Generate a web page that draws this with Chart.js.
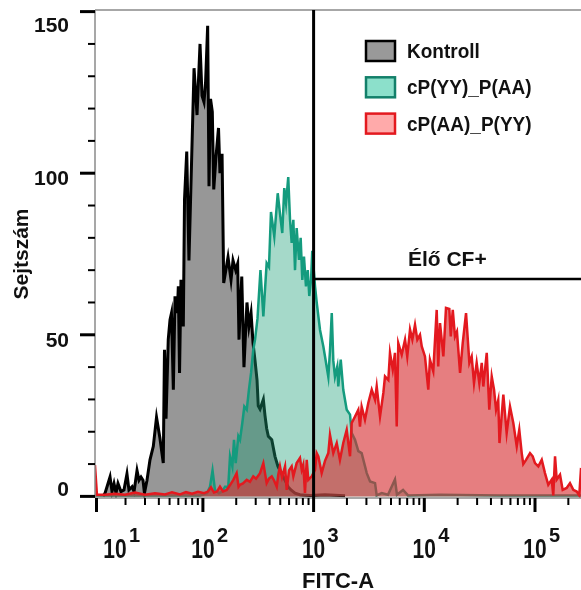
<!DOCTYPE html>
<html><head><meta charset="utf-8">
<script src="https://cdn.jsdelivr.net/npm/chart.js@4.4.0/dist/chart.umd.min.js"></script>
<style>html,body{margin:0;padding:0;background:#fff;}canvas{display:block;}</style>
</head><body>
<canvas id="c" width="581" height="590"></canvas>
<script>
// ---- data (x = log10 FITC-A, y = cell count) ----
const seriesLabels = ['Kontroll', 'cP(YY)_P(AA)', 'cP(AA)_P(YY)'];

const kontrollX = [1.098,1.116,1.143,1.161,1.179,1.197,1.215,1.233,1.260,1.287,1.314,1.332,1.360,1.378,1.405,1.423,1.441,1.459,1.472,1.495,1.522,1.552,1.581,1.612,1.642,1.653,1.667,1.687,1.703,1.716,1.733,1.748,1.769,1.778,1.789,1.802,1.823,1.834,1.854,1.874,1.920,1.947,1.974,1.992,2.010,2.024,2.043,2.055,2.069,2.085,2.098,2.118,2.141,2.154,2.173,2.188,2.227,2.254,2.272,2.296,2.314,2.326,2.351,2.371,2.398,2.416,2.435,2.453,2.471,2.489,2.500,2.516,2.546,2.561,2.576,2.591,2.622,2.651,2.678,2.712,2.742,2.769,2.796,2.832,2.877,2.968,3.103,3.284];
const kontrollY = [0,1,4,6,1.5,4,1,4,1.5,2,7,2,3,1.5,8,5,6,5,1,5,11.3,15.5,24.5,18,10.3,45.4,24,48.5,54.7,56.7,33,61.9,56.7,65,38.2,67,52.6,92,106.7,73,132.5,118,140,124,122,128,145.6,96,123,119,95,105,114,100,106,66,74,67,73,70,72,48.5,68,40,60,52.6,56.7,47.4,42,36,28,27,30,25,21,18.6,17.5,12.4,9.3,7,5,3,2,1,0.5,0.3,0.5,0.2];

const yyaaX = [1.025,1.522,1.974,2.037,2.064,2.087,2.109,2.145,2.173,2.200,2.229,2.245,2.266,2.281,2.296,2.320,2.335,2.356,2.374,2.396,2.416,2.435,2.455,2.471,2.493,2.520,2.546,2.576,2.597,2.615,2.645,2.676,2.696,2.717,2.735,2.751,2.771,2.787,2.802,2.817,2.832,2.847,2.868,2.883,2.898,2.913,2.931,2.947,2.961,2.977,2.988,3.013,3.028,3.058,3.088,3.103,3.133,3.148,3.164,3.178,3.193,3.214,3.223,3.245,3.268,3.299,3.329,3.344,3.374,3.404,3.434,3.480,3.510,3.555,3.570,3.615,3.672,3.735,3.753,3.808,3.853,4.142,4.684,5.416];
const yyaaY = [0.3,0.3,0.3,1,3,8,2,1,1.5,3,3,12.4,9.3,17.5,10.3,18.6,17.5,22.7,27.8,26.8,33,38.2,45.4,48.5,55,70,55.7,72.2,71,88,80.4,93.8,87.6,81.5,95.4,90.7,98.8,85.6,78.4,85.6,70,83,73.2,80,67,74.2,65,70,62,67,76,65,60,51.5,46.4,43.3,37,45,56.7,42,37,40.2,34,42.3,33,26.8,25.3,19.6,17.5,14,13.4,7.2,4.6,4.1,0.3,1,0.5,5.2,0.5,2,0.3,0.5,0.3,0.3];

const aayyX = [1.025,1.043,1.116,1.206,1.296,1.387,1.477,1.567,1.658,1.721,1.793,1.847,1.902,1.956,2.010,2.046,2.073,2.100,2.127,2.154,2.182,2.215,2.245,2.275,2.305,2.322,2.335,2.362,2.396,2.425,2.455,2.480,2.516,2.546,2.576,2.597,2.622,2.642,2.667,2.681,2.696,2.715,2.742,2.757,2.778,2.802,2.817,2.847,2.877,2.893,2.907,2.922,2.938,2.952,2.983,3.013,3.028,3.043,3.073,3.103,3.133,3.148,3.178,3.209,3.238,3.268,3.299,3.329,3.344,3.374,3.404,3.419,3.434,3.464,3.494,3.525,3.555,3.570,3.600,3.630,3.645,3.675,3.690,3.715,3.735,3.751,3.765,3.796,3.826,3.846,3.871,3.892,3.916,3.937,3.961,3.977,4.006,4.036,4.051,4.081,4.112,4.126,4.142,4.172,4.196,4.226,4.239,4.257,4.277,4.295,4.323,4.347,4.377,4.407,4.428,4.449,4.473,4.497,4.519,4.533,4.564,4.587,4.609,4.630,4.648,4.668,4.679,4.714,4.744,4.774,4.804,4.835,4.858,4.880,4.894,4.919,4.955,4.979,5.000,5.030,5.061,5.090,5.120,5.151,5.165,5.181,5.196,5.226,5.250,5.286,5.316,5.346,5.377,5.400,5.416];
const aayyY = [9.7,0.5,0.5,0.8,0.5,1.2,0.5,1.0,0.6,1.3,0.6,1.3,0.8,1.4,1.0,1.5,2.8,1.2,1.5,3,1.5,2,3.5,5.1,7.2,3,3.6,4,5.1,4.5,6.2,5.5,7.2,10.3,4.1,5.5,6.2,5,3,6.7,9.3,6,9.3,2,8,9.3,6.2,10.3,11.9,8.2,9.8,1.1,11.3,5.1,6.2,8.2,13.4,12.4,7.2,11,13.4,19,13.4,16.5,11.3,16.5,20.6,12.4,22.7,24.7,26.8,21.6,27.8,23.7,28.9,33,29.9,34,24.7,32,37.1,36,44.4,39.2,44.4,21.6,47.4,43.8,48.5,43.3,51.6,48.5,53.1,48.5,50,46.4,43.3,33,42.3,38.7,57.7,40.2,53.6,43.3,58.3,58,49.5,57.7,49.5,51,38.2,47.4,56.7,41.3,43.3,35,41.3,35,41.3,34,44.4,26.8,37.1,33,26.8,29.8,16.5,31.5,19.6,27.8,22.7,15.5,20.6,13.4,10,11.3,13.4,12.4,10.3,9.3,11.3,7.2,3.6,5.2,0.3,12.4,5.2,6.7,2,2.6,4.1,2,1.5,0.3,8.8];

const yMajorTicks = [0, 50, 100, 150];
const yMinorTicks = [10, 20, 30, 40, 60, 70, 80, 90, 110, 120, 130, 140];
const xDecades = [1, 2, 3, 4, 5];
const xMinorSteps = [2, 3, 4, 5, 6, 7, 8, 9];
const gateX = 3;
const gateY = 67.3;
const gateLabel = 'Élő CF+';
const xTitle = 'FITC-A';
const yTitle = 'Sejtszám';

function pts(xs, ys) { return xs.map((x, i) => ({ x: x, y: ys[i] })); }

const FONT = '"Liberation Sans", Arial, Helvetica, sans-serif';
const legendStyles = [
  { fill: '#999999', stroke: '#000000' },
  { fill: '#8ce0cb', stroke: '#13806a' },
  { fill: '#ffaaaa', stroke: '#e3191f' }
];

function seg(ctx, x1, y1, x2, y2) { ctx.beginPath(); ctx.moveTo(x1, y1); ctx.lineTo(x2, y2); ctx.stroke(); }

const decor = {
  id: 'decor',
  afterDatasetsDraw(chart) {
    const ctx = chart.ctx, a = chart.chartArea, xs = chart.scales.x, ys = chart.scales.y;
    ctx.save();
    // frame lines
    ctx.strokeStyle = '#8a8a8a'; ctx.lineWidth = 1.5;
    seg(ctx, a.left, a.top, a.right, a.top);
    seg(ctx, a.left, a.top, a.left, a.bottom);
    seg(ctx, a.left, a.bottom, a.right, a.bottom);

    // gate
    const gx = xs.getPixelForValue(gateX), gy = ys.getPixelForValue(gateY);
    ctx.strokeStyle = '#000'; ctx.lineWidth = 3;
    seg(ctx, gx, a.top, gx, a.bottom);
    ctx.lineWidth = 2.5;
    seg(ctx, gx, gy, a.right, gy);
    ctx.fillStyle = '#111';
    ctx.font = 'bold 21px ' + FONT; ctx.textAlign = 'center'; ctx.textBaseline = 'alphabetic';
    ctx.fillText(gateLabel, (gx + a.right) / 2, gy - 13);

    // y ticks
    ctx.strokeStyle = '#000';
    yMajorTicks.forEach(v => { const p = ys.getPixelForValue(v); ctx.lineWidth = 3; seg(ctx, a.left - 15, p, a.left, p); });
    yMinorTicks.forEach(v => { const p = ys.getPixelForValue(v); ctx.lineWidth = 2; seg(ctx, a.left - 7, p, a.left, p); });
    ctx.font = 'bold 21px ' + FONT; ctx.textAlign = 'right';
    yMajorTicks.forEach(v => {
      const p = ys.getPixelForValue(v);
      const cy = Math.min(Math.max(p + 4.5, a.top + 14.5), a.bottom - 9.5);
      ctx.fillText(String(v), 69, cy + 7.5);
    });

    // x ticks
    xDecades.forEach(d => {
      let p = xs.getPixelForValue(d); if (p < a.left) p = a.left + 1.5;
      ctx.lineWidth = 3; seg(ctx, p, a.bottom, p, a.bottom + 14);
      xMinorSteps.forEach(k => {
        const v = d + Math.log10(k);
        if (v > xs.min && v < xs.max) { const q = xs.getPixelForValue(v); ctx.lineWidth = 2; seg(ctx, q, a.bottom, q, a.bottom + 7); }
      });
    });
    xDecades.forEach(d => {
      const p = Math.max(xs.getPixelForValue(d), a.left + 20);
      ctx.save(); ctx.translate(p, 558); ctx.scale(1, 1.3);
      ctx.font = 'bold 21px ' + FONT; ctx.textAlign = 'center'; ctx.fillText('10', 0, 0);
      ctx.restore();
      ctx.font = 'bold 20px ' + FONT; ctx.textAlign = 'left'; ctx.fillText(String(d), p + 14, 542);
    });

    // axis titles
    ctx.font = 'bold 22px ' + FONT; ctx.textAlign = 'center';
    ctx.fillText(xTitle, (a.left + a.right) / 2, 588);
    ctx.save(); ctx.translate(28, (a.top + a.bottom) / 2); ctx.rotate(-Math.PI / 2);
    ctx.font = 'bold 21px ' + FONT; ctx.fillText(yTitle, 0, 0); ctx.restore();

    // legend
    chart.data.datasets.forEach((ds, i) => {
      const top = 41 + i * 36.3, st = legendStyles[i];
      ctx.fillStyle = st.fill; ctx.fillRect(366, top, 29, 20);
      ctx.strokeStyle = st.stroke; ctx.lineWidth = 2.5; ctx.strokeRect(366, top, 29, 20);
      ctx.fillStyle = '#111';
      ctx.save(); ctx.translate(407, top + 17); ctx.scale(1, 1.1);
      ctx.font = 'bold 19px ' + FONT; ctx.textAlign = 'left'; ctx.fillText(ds.label, 0, 0);
      ctx.restore();
    });
    ctx.restore();
  }
};

new Chart(document.getElementById('c'), {
  type: 'line',
  data: {
    datasets: [
      { label: seriesLabels[0], data: pts(kontrollX, kontrollY), borderColor: '#000000', backgroundColor: '#979797', borderWidth: 3, fill: 'origin', pointRadius: 0, tension: 0, order: 3 },
      { label: seriesLabels[1], data: pts(yyaaX, yyaaY), borderColor: '#149b7e', backgroundColor: 'rgba(30,160,120,0.4)', borderWidth: 2.5, fill: 'origin', pointRadius: 0, tension: 0, order: 2 },
      { label: seriesLabels[2], data: pts(aayyX, aayyY), borderColor: '#e3191f', backgroundColor: 'rgba(214,46,50,0.62)', borderWidth: 2.5, fill: 'origin', pointRadius: 0, tension: 0, order: 1 }
    ]
  },
  options: {
    responsive: false,
    animation: false,
    layout: { padding: { left: 95, right: 0, top: 10, bottom: 92 } },
    scales: {
      x: { type: 'linear', min: 1.0253, max: 5.4155, display: false },
      y: { type: 'linear', min: -0.5, max: 150.5, display: false }
    },
    plugins: { legend: { display: false }, tooltip: { enabled: false } }
  },
  plugins: [decor]
});
</script>
</body></html>
